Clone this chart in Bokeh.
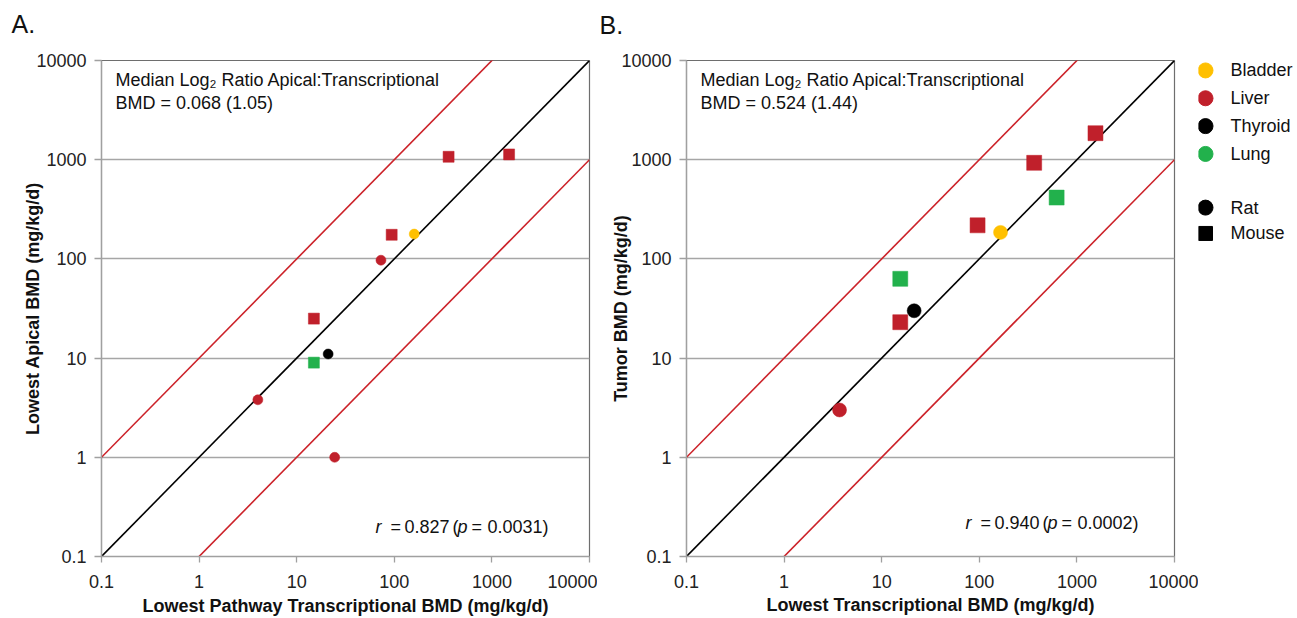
from bokeh.plotting import figure
from bokeh.layouts import row
from bokeh.models import Label, FixedTicker, ColumnDataSource, Title
from bokeh.core.properties import value
from bokeh.embed import file_html
from bokeh.resources import INLINE

FONT = "Liberation Sans"

# ---- data ----
tick_values = [0.1, 1, 10, 100, 1000, 10000]
tick_labels = ["0.1", "1", "10", "100", "1000", "10000"]

a_x = [360, 1500, 94, 160, 73, 15, 21, 15, 4, 24.5]
a_y = [1070, 1130, 175, 178, 97, 25, 11, 9, 3.8, 1.0]
a_tissue = ["Liver", "Liver", "Liver", "Bladder", "Liver", "Liver", "Thyroid", "Lung", "Liver", "Liver"]
a_species = ["Mouse", "Mouse", "Mouse", "Rat", "Rat", "Mouse", "Rat", "Mouse", "Rat", "Rat"]

b_x = [1550, 365, 620, 96, 165, 15.5, 21.5, 15.5, 3.7]
b_y = [1850, 930, 415, 218, 185, 63, 30, 23, 3.0]
b_tissue = ["Liver", "Liver", "Lung", "Liver", "Bladder", "Lung", "Thyroid", "Liver", "Liver"]
b_species = ["Mouse", "Mouse", "Mouse", "Mouse", "Rat", "Mouse", "Rat", "Mouse", "Rat"]

tissues = ["Bladder", "Liver", "Thyroid", "Lung"]
tissue_colors = ["#FFC000", "#C0202B", "#000000", "#22B14C"]
species = ["Rat", "Mouse"]
species_markers = ["circle", "square"]

ref_x = [0.1, 10000]
ref_factors = [10, 1, 0.1]
ref_colors = ["#CC2229", "#000000", "#CC2229"]

a_median = ["Median Log\u2082 Ratio Apical:Transcriptional", "BMD = 0.068 (1.05)"]
b_median = ["Median Log\u2082 Ratio Apical:Transcriptional", "BMD = 0.524 (1.44)"]
a_stats = ["r", "=", "0.827", "(", "p", "=", "0.0031)"]
b_stats = ["r", "=", "0.940", "(", "p", "=", "0.0002)"]
stats_italic = [True, False, False, False, True, False, False]

color_of = dict(zip(tissues, tissue_colors))
marker_of = dict(zip(species, species_markers))

TOP, BOTTOM = 60, 59


def make_panel(xs, ys, tis, spp, xlabel, ylabel, letter, median, stats,
               width, bl, br, sq, ci, ylab_standoff, xlab_standoff,
               letter_off, spacer, stats_off):
    p = figure(width=width, height=618, x_axis_type="log", y_axis_type="log",
               x_range=(0.1, 10000), y_range=(0.1, 10000),
               output_backend="svg", toolbar_location=None,
               min_border_left=bl, min_border_top=TOP, min_border_bottom=BOTTOM,
               min_border_right=br, background_fill_color="white",
               border_fill_color="white")
    p.outline_line_color = "#6E6E6E"
    p.outline_line_width = 1.2
    p.xgrid.visible = False
    p.ygrid.grid_line_color = "#A6A6A6"
    p.ygrid.grid_line_width = 1.3
    p.ygrid.ticker = FixedTicker(ticks=tick_values)
    for ax in (p.xaxis[0], p.yaxis[0]):
        ax.ticker = FixedTicker(ticks=tick_values)
        ax.major_label_overrides = dict(zip(tick_values, tick_labels))
        ax.minor_tick_line_color = None
        ax.axis_line_color = "#A0A0A0"
        ax.axis_line_width = 1.3
        ax.major_tick_line_color = "#A0A0A0"
        ax.major_tick_line_width = 1.3
        ax.major_tick_in = 0
        ax.major_label_text_font = FONT
        ax.major_label_text_font_size = "18px"
        ax.major_label_text_color = "#222222"
        ax.axis_label_text_font = FONT
        ax.axis_label_text_font_size = "18px"
        ax.axis_label_text_font_style = "bold"
        ax.axis_label_text_color = "#111111"
    p.xaxis.major_tick_out = 6
    p.xaxis.major_label_standoff = 12
    p.xaxis.axis_label = xlabel
    p.xaxis.axis_label_standoff = xlab_standoff
    p.yaxis.major_tick_out = 7
    p.yaxis.major_label_standoff = 8
    p.yaxis.axis_label = ylabel
    p.yaxis.axis_label_standoff = ylab_standoff

    # spacer between frame and panel letter
    p.add_layout(Title(text=" ", text_font_size="10px", standoff=spacer), "above")
    # panel letter as title (outermost)
    p.title.text = letter
    p.title.align = "left"
    p.title.offset = letter_off
    p.title.text_font = FONT
    p.title.text_font_size = "25px"
    p.title.text_font_style = "normal"
    p.title.text_color = "#111111"
    p.title.vertical_align = "middle"
    p.title.standoff = 0

    # reference lines
    for f, c in zip(ref_factors, ref_colors):
        p.line(ref_x, [v * f for v in ref_x], line_color=c, line_width=1.6)

    src = ColumnDataSource(dict(
        x=xs, y=ys,
        color=[color_of[t] for t in tis],
        marker=[marker_of[s] for s in spp],
        size=[sq if s == "Mouse" else ci for s in spp],
    ))
    p.scatter("x", "y", source=src, marker="marker", size="size",
              fill_color="color", line_color="color", line_width=0.5)

    # median text
    for i, t in enumerate(median):
        p.add_layout(Label(x=0.1, y=10000, x_offset=14, y_offset=-19 - 23 * i,
                           text=t, text_font=FONT, text_font_size="18px",
                           text_baseline="middle", text_color="#111111"))
    # statistics text
    offs = [0, 15, 29, 77, 82, 96, 112]
    for t, it, o in zip(stats, stats_italic, offs):
        p.add_layout(Label(x=0.1, y=0.1, x_offset=stats_off[0] + o, y_offset=stats_off[1],
                           text=t, text_font=FONT, text_font_size="18px",
                           text_font_style="italic" if it else "normal",
                           text_baseline="middle", text_color="#111111"))
    return p


pa = make_panel(a_x, a_y, a_tissue, a_species,
                "Lowest Pathway Transcriptional BMD (mg/kg/d)",
                "Lowest Apical BMD (mg/kg/d)", "A.", a_median, a_stats,
                width=597, bl=101, br=8, sq=11, ci=10,
                ylab_standoff=-10, xlab_standoff=5,
                letter_off=-90, spacer=9, stats_off=(274, 30))
pb = make_panel(b_x, b_y, b_tissue, b_species,
                "Lowest Transcriptional BMD (mg/kg/d)",
                "Tumor BMD (mg/kg/d)", "B.", b_median, b_stats,
                width=601, bl=89, br=24, sq=15, ci=14,
                ylab_standoff=-13, xlab_standoff=4,
                letter_off=-87, spacer=8, stats_off=(279, 34))

# legend panel (x, y data = canvas pixel coordinates)
LEG_LEFT = 597 + 601
leg = figure(width=1297 - LEG_LEFT, height=618, x_range=(LEG_LEFT, 1297),
             y_range=(618 - BOTTOM, TOP),
             x_axis_type=None, y_axis_type=None, output_backend="svg",
             toolbar_location=None, min_border_left=0, min_border_right=0,
             min_border_top=TOP, min_border_bottom=BOTTOM, outline_line_color=None)
leg.grid.visible = False
leg_y_t = [70 + 28 * i for i in range(len(tissues))]
leg.scatter([1205] * len(tissues), leg_y_t, marker="circle", size=15,
            fill_color=tissue_colors, line_color=tissue_colors)
leg.text([1230] * len(tissues), leg_y_t, text=tissues, text_font=value(FONT),
         text_font_size="18px", text_baseline="middle", text_color="#111111")
leg_y_s = [208 + 26 * i for i in range(len(species))]
leg.scatter([1205] * len(species), leg_y_s, marker=species_markers, size=[15, 14],
            fill_color="black", line_color="black")
leg.text([1230] * len(species), leg_y_s, text=species, text_font=value(FONT),
         text_font_size="18px", text_baseline="middle", text_color="#111111")

layout = row(pa, pb, leg, spacing=0)
open("out.html", "w").write(file_html(layout, INLINE))
